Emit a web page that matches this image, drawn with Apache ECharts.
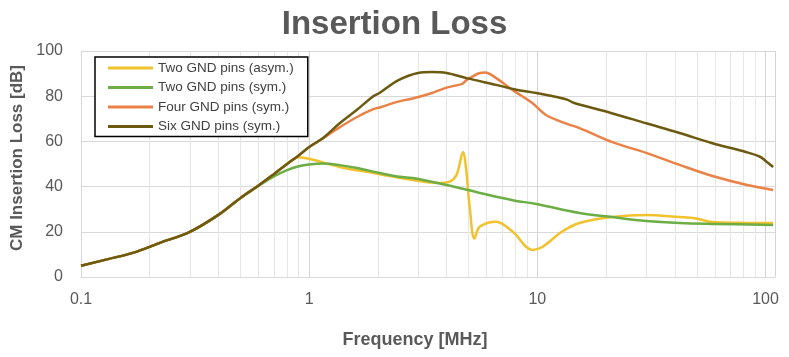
<!DOCTYPE html>
<html>
<head>
<meta charset="utf-8">
<script src="https://cdn.jsdelivr.net/npm/echarts@6/dist/echarts.min.js"></script>
<style>html,body{margin:0;padding:0;background:#fff}#c{width:789px;height:357px}</style>
</head>
<body>
<div id="c"></div>
<script>
const titleText = 'Insertion Loss';
const xName = 'Frequency [MHz]';
const yName = 'CM Insertion Loss [dB]';
const seriesNames = ['Two GND pins (asym.)', 'Two GND pins (sym.)', 'Four GND pins (sym.)', 'Six GND pins (sym.)'];
const seriesColors = ['#F2C12E', '#6DAD45', '#EA8245', '#6B5A10'];
const minorTicks = [0.2,0.3,0.4,0.5,0.6,0.7,0.8,0.9,2,3,4,5,6,7,8,9,20,30,40,50,60,70,80,90];

const freqYellow = [0.1,0.13,0.17,0.22,0.3,0.4,0.5,0.6,0.7,0.8,0.9,1.0,1.36,1.91,2.04,2.84,3.7,4.13,4.42,4.73,4.86,5.05,5.3,5.6,6.6,7.8,9.5,10.5,12.8,15.3,21.3,30,42,49,58.6,80,108];
const lossYellow = [5,7.8,10.8,15,20,27.5,35,40.5,45.5,50,53,52.3,48.7,46,45.5,42.9,41.6,42.2,45.1,55.3,48.9,31,17,22.3,24.5,20,12,13.3,20,23.9,26.5,27.4,26.5,26,24.3,24,23.9];

const freqGreen = [0.1,0.13,0.17,0.22,0.3,0.4,0.5,0.6,0.7,0.8,0.9,1.0,1.15,1.36,1.62,2.04,2.42,2.84,4.0,5.6,7.8,9.9,15.3,21.3,30,42,58.6,108];
const lossGreen = [5,7.8,10.8,15,20,27.5,35,40.3,44.5,47.3,49,49.8,50.2,49.5,48.2,46,44.5,43.8,40.7,37.2,34,32.3,28.3,26.5,24.8,23.9,23.5,23];

const freqOrange = [0.1,0.13,0.17,0.22,0.3,0.4,0.5,0.6,0.7,0.8,0.9,1.0,1.15,1.3,1.62,1.91,2.04,2.45,2.84,3.4,4.0,4.5,4.7,4.9,5.6,5.9,6.6,7.8,9.5,10.9,13.3,15.3,21.3,30,42,58.6,83,108];
const lossOrange = [5,7.8,10.8,15,20,27.5,35,40.5,45.5,50,53.8,57.5,61.3,65,70.8,74.3,75,77.6,79,81.2,83.8,85,85.5,87.2,90.3,90.5,88,82.7,77,71.7,68,65.9,59.7,54.9,49.6,44.7,40.7,38.5];

const freqDark = [0.1,0.13,0.17,0.22,0.3,0.4,0.5,0.6,0.7,0.8,0.9,1.0,1.15,1.36,1.62,1.91,2.04,2.45,3.0,3.45,4.0,4.9,6.6,8.0,9.9,12.3,13.5,14.5,21,30,42,58,82,95,101,108];
const lossDark = [5,7.8,10.8,15,20,27.5,35,40.5,45.5,50,53.8,57.5,61.5,68,74,80,81.5,87,90.3,90.7,90.3,88,85,83,81.4,79.5,78.5,77,72.6,68,63.7,59.3,55.3,53.1,51,48.7];

const freqs = [freqYellow, freqGreen, freqOrange, freqDark];
const losses = [lossYellow, lossGreen, lossOrange, lossDark];

const chart = echarts.init(document.getElementById('c'), null, {renderer: 'canvas'});
const gray = '#595959';
const series = seriesNames.map((name, i) => {
  const s = {
    name: name,
    type: 'line',
    data: freqs[i].map((f, k) => [f, losses[i][k]]),
    showSymbol: false,
    symbol: 'none',
    smooth: 0.35,
    lineStyle: {width: 2.5, color: seriesColors[i]},
    itemStyle: {color: seriesColors[i]},
    z: 2 + i
  };
  if (i === 0) {
    s.markLine = {
      silent: true,
      symbol: 'none',
      z: 1,
      label: {show: false},
      lineStyle: {color: '#E6E6E6', width: 1, type: 'solid'},
      animation: false,
      data: minorTicks.map(v => ({xAxis: v}))
    };
  }
  return s;
});

chart.setOption({
  animation: false,
  backgroundColor: '#fff',
  title: {
    text: titleText,
    left: 'center',
    top: 3,
    textStyle: {fontFamily: 'Liberation Sans', fontWeight: 'bold', fontSize: 33, color: gray}
  },
  legend: {
    data: seriesNames,
    orient: 'vertical',
    left: 95,
    top: 57,
    padding: [4, 14, 3, 13],
    itemGap: 5.5,
    itemWidth: 45,
    itemHeight: 3,
    icon: 'rect',
    borderColor: '#000',
    borderWidth: 1.5,
    backgroundColor: '#fff',
    textStyle: {fontFamily: 'Liberation Sans', fontSize: 13.5, color: '#404040'}
  },
  grid: {left: 81, right: 14, top: 51, bottom: 80},
  xAxis: {
    type: 'log',
    logBase: 10,
    min: 0.1,
    max: 110,
    name: xName,
    nameLocation: 'middle',
    nameGap: 54,
    nameTextStyle: {fontFamily: 'Liberation Sans', fontWeight: 'bold', fontSize: 18, color: gray, padding: [0, 26, 0, 0]},
    axisLine: {show: true, lineStyle: {color: '#D9D9D9', width: 1}},
    axisTick: {show: false},
    axisLabel: {
      fontFamily: 'Liberation Sans', fontSize: 16, color: gray, margin: 15,
      showMaxLabel: false,
      formatter: function (v) {
        const l = Math.log10(v);
        if (Math.abs(l - Math.round(l)) < 1e-6) return String(+v.toPrecision(3));
        return '';
      }
    },
    splitLine: {show: true, lineStyle: {color: '#D4D4D4', width: 1}}
  },
  yAxis: {
    type: 'value',
    min: 0,
    max: 100,
    interval: 20,
    name: yName,
    nameLocation: 'middle',
    nameGap: 52,
    nameTextStyle: {fontFamily: 'Liberation Sans', fontWeight: 'bold', fontSize: 17, color: gray, padding: [0, 0, 0, 12]},
    axisLine: {show: true, lineStyle: {color: '#D9D9D9', width: 1}},
    axisTick: {show: false},
    axisLabel: {fontFamily: 'Liberation Sans', fontSize: 16, color: gray, margin: 18},
    splitLine: {show: true, lineStyle: {color: '#D9D9D9', width: 1}}
  },
  series: series
});
</script>
</body>
</html>
